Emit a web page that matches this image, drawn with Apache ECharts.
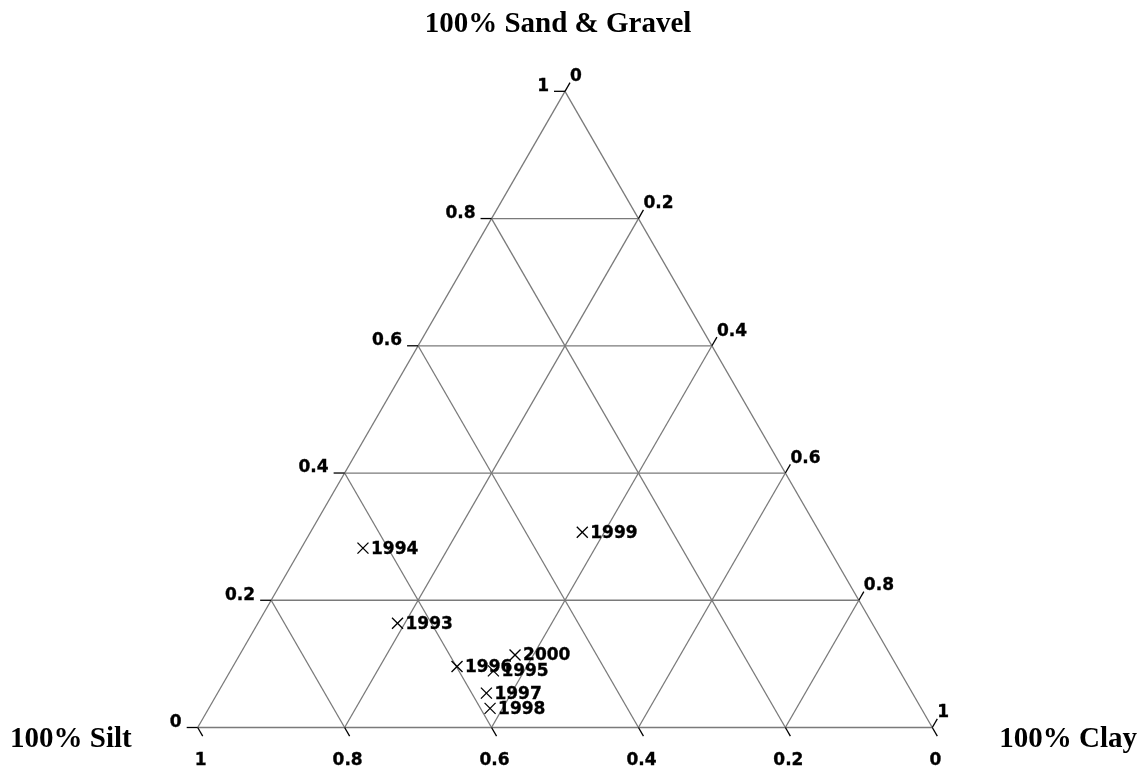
<!DOCTYPE html>
<html>
<head>
<meta charset="utf-8">
<script src="https://cdn.jsdelivr.net/npm/echarts@6/dist/echarts.min.js"></script>
<style>
  html, body { margin: 0; padding: 0; background: #fff; }
  #chart { width: 1141px; height: 770px; }
</style>
</head>
<body>
<div id="chart"></div>
<script>
// Sediment composition by year (fractions of sand & gravel, silt, clay)
const years    = ['1993', '1994', '1995', '1996', '1997', '1998', '1999', '2000'];
const sandFrac = [0.164, 0.282, 0.089, 0.096, 0.054, 0.030, 0.307, 0.114];
const siltFrac = [0.646, 0.634, 0.553, 0.599, 0.580, 0.587, 0.323, 0.511];
const clayFrac = [0.190, 0.084, 0.358, 0.305, 0.366, 0.383, 0.370, 0.375];

// Axis ticks shared by the three sides
const tickValues = [0, 0.2, 0.4, 0.6, 0.8, 1];
const tickLabels = ['0', '0.2', '0.4', '0.6', '0.8', '1'];
const gridValues = [0.2, 0.4, 0.6, 0.8];

const vertexTitles = { top: '100% Sand & Gravel', left: '100% Silt', right: '100% Clay' };

// ternary (sand, clay) -> cartesian unit triangle
function tern(sand, clay) { return [clay + sand / 2, sand]; }

const GRID_COLOR = '#7a7a7a';
const GRID_WIDTH = 1.3;
const TICK_FONT = 'bold 17px "DejaVu Sans"';
const POINT_FONT = 'bold 17px "DejaVu Sans"';
const TICK_LEN = 10;

const gridW = 734.6;
const gridH = gridW * Math.sqrt(3) / 2;

function seg(api, a, b, color, width) {
  const p = api.coord(a), q = api.coord(b);
  return { type: 'line', shape: { x1: p[0], y1: p[1], x2: q[0], y2: q[1] },
           style: { stroke: color, lineWidth: width } };
}

function label(text, x, y, align) {
  return { type: 'text', style: { text: text, x: x, y: y, font: TICK_FONT, fill: '#000',
           stroke: '#000', lineWidth: 0.35, align: align, verticalAlign: 'middle' } };
}

// Triangle outline and internal grid lines (one item per grid value)
function renderGrid(params, api) {
  const v = gridValues[params.dataIndex];
  const children = [
    // constant sand (horizontal)
    seg(api, tern(v, 0), tern(v, 1 - v), GRID_COLOR, GRID_WIDTH),
    // constant clay
    seg(api, tern(0, v), tern(1 - v, v), GRID_COLOR, GRID_WIDTH),
    // constant silt
    seg(api, tern(0, 1 - v), tern(1 - v, 0), GRID_COLOR, GRID_WIDTH)
  ];
  if (params.dataIndex === 0) {
    children.push(seg(api, tern(0, 0), tern(0, 1), GRID_COLOR, GRID_WIDTH));
    children.push(seg(api, tern(0, 0), tern(1, 0), GRID_COLOR, GRID_WIDTH));
    children.push(seg(api, tern(0, 1), tern(1, 0), GRID_COLOR, GRID_WIDTH));
  }
  return { type: 'group', children: children };
}

// Ticks and labels on the three sides (one item per tick value)
function renderTicks(params, api) {
  const i = params.dataIndex;
  const v = tickValues[i];
  const text = tickLabels[i];
  const c = Math.cos(Math.PI / 3) * TICK_LEN, s = Math.sin(Math.PI / 3) * TICK_LEN;
  const tick = { stroke: '#000', lineWidth: 1.3 };
  const children = [];

  // left side: sand fraction, 0 at bottom, 1 at top
  const pl = api.coord(tern(v, 0));
  children.push({ type: 'line', shape: { x1: pl[0], y1: pl[1], x2: pl[0] - TICK_LEN - 1, y2: pl[1] }, style: tick });
  children.push(label(text, pl[0] - TICK_LEN - 6, pl[1] - 5, 'right'));

  // right side: clay fraction, 0 at top, 1 at bottom
  const pr = api.coord(tern(1 - v, v));
  children.push({ type: 'line', shape: { x1: pr[0], y1: pr[1], x2: pr[0] + c, y2: pr[1] - s }, style: tick });
  children.push(label(text, pr[0] + c, pr[1] - s - 6, 'left'));

  // bottom side: silt fraction, 1 at left, 0 at right
  const pb = api.coord(tern(0, 1 - v));
  children.push({ type: 'line', shape: { x1: pb[0], y1: pb[1], x2: pb[0] + c, y2: pb[1] + s }, style: tick });
  children.push(label(text, pb[0] + 3, pb[1] + 33, 'center'));

  return { type: 'group', children: children };
}

// Sample points: "x" marker with the year beside it
function renderPoints(params, api) {
  const i = params.dataIndex;
  const p = api.coord(tern(sandFrac[i], clayFrac[i]));
  const r = 5.5;
  return { type: 'group', children: [
    { type: 'line', shape: { x1: p[0] - r, y1: p[1] - r, x2: p[0] + r, y2: p[1] + r },
      style: { stroke: '#000', lineWidth: 1.3 } },
    { type: 'line', shape: { x1: p[0] - r, y1: p[1] + r, x2: p[0] + r, y2: p[1] - r },
      style: { stroke: '#000', lineWidth: 1.3 } },
    { type: 'text', style: { text: years[i], x: p[0] + 8, y: p[1] + 1,
      font: POINT_FONT, fill: '#000', stroke: '#000', lineWidth: 0.35,
      align: 'left', verticalAlign: 'middle' } }
  ]};
}

const chart = echarts.init(document.getElementById('chart'), null, { renderer: 'canvas' });

const vertexFont = { fontFamily: '"Liberation Serif", "Times New Roman", serif', fontWeight: 'bold', fontSize: 29, fill: '#000' };

chart.setOption({
  backgroundColor: '#fff',
  animation: false,
  grid: { left: 197.7, top: 727.5 - gridH, width: gridW, height: gridH },
  xAxis: { type: 'value', min: 0, max: 1, show: false },
  yAxis: { type: 'value', min: 0, max: 1, show: false },
  graphic: [
    { type: 'text', x: 558, y: 25, style: Object.assign({ text: vertexTitles.top, align: 'center', verticalAlign: 'middle' }, vertexFont) },
    { type: 'text', x: 10, y: 740, style: Object.assign({ text: vertexTitles.left, align: 'left', verticalAlign: 'middle' }, vertexFont) },
    { type: 'text', x: 1137, y: 740, style: Object.assign({ text: vertexTitles.right, align: 'right', verticalAlign: 'middle' }, vertexFont) }
  ],
  series: [
    { type: 'custom', coordinateSystem: 'cartesian2d', clip: false, silent: true,
      renderItem: renderGrid, data: gridValues.map(v => [v, v]) },
    { type: 'custom', coordinateSystem: 'cartesian2d', clip: false, silent: true,
      renderItem: renderTicks, data: tickValues.map(v => [v, v]) },
    { type: 'custom', coordinateSystem: 'cartesian2d', clip: false, silent: true,
      renderItem: renderPoints,
      data: years.map((y, i) => tern(sandFrac[i], clayFrac[i])) }
  ]
});
</script>
</body>
</html>
